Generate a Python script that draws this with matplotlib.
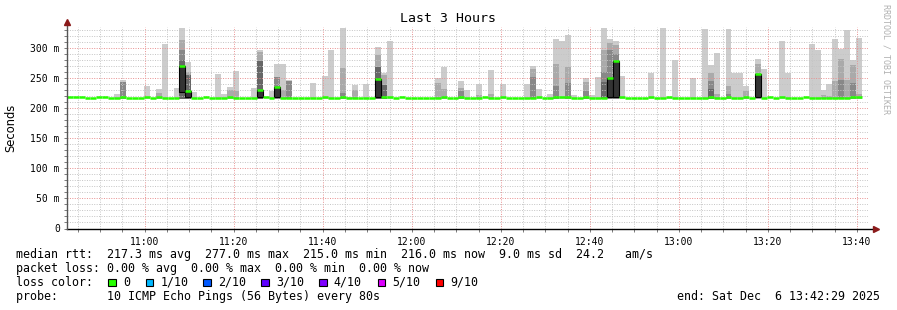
import matplotlib
matplotlib.use('Agg')
import matplotlib.pyplot as plt
from matplotlib.patches import Rectangle
from datetime import datetime, timedelta

# smokeping style: 80 s steps, 10 pings per step
START = datetime(2025, 12, 6, 10, 42, 29)
END = datetime(2025, 12, 6, 13, 42, 29)
STEP_MIN = 80 / 60
N_STEPS = 134

# median rtt (ms) per step: flat base with a few deviations
median_base = 216.5
median_bump_k = [0, 1, 2, 5, 6, 9, 13, 15, 23, 27, 33, 43, 46, 54, 56, 63, 66, 70, 73,
                 79, 82, 83, 84, 87, 93, 98, 101, 108, 111, 114, 118, 120, 124, 132, 133]
median_bump = 218.0
median_hi_k = [19, 20, 32, 35, 52, 53, 91, 92, 116]
median_hi = [270, 228, 231, 235, 249, 219, 251, 278, 257]

# smoke: tops of the sorted-ping bands, outer (light) to inner (dark), 0 = none
spike_k = [8, 9, 13, 15, 16, 18, 19, 20, 21, 25, 26, 27, 28, 31, 32, 34, 35, 36, 37, 41,
           43, 44, 46, 47, 48, 50, 52, 53, 54, 62, 63, 66, 67, 69, 71, 73, 77, 78, 79, 81,
           82, 83, 84, 85, 87, 88, 89, 90, 91, 92, 93, 98, 100, 101, 102, 105, 107, 108,
           109, 111, 112, 113, 114, 116, 117, 120, 121, 125, 126, 127, 128, 129, 130, 131,
           132, 133]
band1 = [224, 247, 237, 232, 307, 234, 333, 276, 227, 257, 224, 235, 262, 234, 297, 229, 273,
         273, 247, 242, 253, 296, 333, 219, 238, 240, 302, 259, 312, 250, 269, 245, 230, 240,
         263, 240, 240, 270, 232, 223, 315, 312, 322, 222, 250, 222, 252, 333, 315, 312, 253,
         259, 333, 219, 280, 250, 332, 272, 292, 332, 259, 259, 237, 282, 265, 312, 258, 307,
         297, 230, 240, 315, 298, 330, 280, 317]
band2 = [0, 0, 0, 225, 0, 0, 313, 260, 0, 0, 0, 230, 228, 0, 293, 0, 0, 230, 0, 0,
         0, 0, 267, 0, 230, 0, 288, 256, 0, 242, 232, 234, 0, 222, 223, 0, 0, 266, 0, 0,
         273, 0, 268, 0, 243, 0, 0, 297, 308, 305, 0, 0, 0, 0, 0, 0, 0, 259, 224, 237, 0,
         0, 229, 273, 0, 0, 0, 0, 0, 222, 220, 245, 282, 247, 272, 223]
band3 = [0, 244, 0, 0, 0, 0, 297, 0, 0, 0, 0, 0, 0, 0, 0, 0, 252, 0, 245, 0,
         0, 0, 225, 0, 0, 0, 0, 0, 0, 0, 0, 228, 0, 0, 0, 0, 0, 252, 0, 0,
         237, 0, 242, 0, 228, 0, 0, 261, 297, 290, 0, 0, 0, 0, 0, 0, 0, 245, 0, 223, 0,
         0, 0, 0, 0, 0, 0, 0, 0, 0, 0, 0, 247, 0, 242, 0]
band4 = [0, 0, 0, 0, 0, 0, 280, 255, 0, 0, 0, 0, 0, 0, 278, 0, 0, 0, 0, 0,
         0, 0, 0, 0, 0, 0, 269, 238, 0, 0, 0, 0, 0, 0, 0, 0, 0, 0, 0, 0,
         0, 0, 0, 0, 0, 0, 0, 244, 0, 0, 0, 0, 0, 0, 0, 0, 0, 232, 0, 0, 0,
         0, 0, 0, 0, 0, 0, 0, 0, 0, 0, 0, 0, 0, 0, 0]
box_k = [19, 20, 32, 35, 52, 91, 92, 116]
box_low = [227, 219, 219, 219, 219, 219, 219, 219]

loss_labels = ['0', '1/10', '2/10', '3/10', '4/10', '5/10', '9/10']
loss_colors = ['#26ff00', '#00b8ff', '#0059ff', '#5e00ff', '#7e00ff', '#dd00ff', '#ff0000']

W, H = 897, 310
fig = plt.figure(figsize=(W / 100, H / 100), dpi=100)
fig.patch.set_facecolor('white')
x0, x1, y0, y1 = 66.7, 868, 27, 228.5
ax = fig.add_axes([x0 / W, 1 - y1 / H, (x1 - x0) / W, (y1 - y0) / H])
ax.set_xlim(0, 180)
ax.set_ylim(0, 335)
for s in ax.spines.values():
    s.set_visible(False)

# smoke
base = 215
band_colors = ['#cccccc', '#aaaaaa', '#888888', '#666666']
for band, col in zip([band1, band2, band3, band4], band_colors):
    xs = [k * STEP_MIN for k, v in zip(spike_k, band) if v > 0]
    hs = [v - base for v in band if v > 0]
    ax.bar(xs, hs, bottom=base, width=STEP_MIN, align='edge', color=col, linewidth=0, zorder=2)

median = {k: median_base for k in range(N_STEPS)}
for k in median_bump_k:
    median[k] = median_bump
for k, v in zip(median_hi_k, median_hi):
    median[k] = v

for k, lo in zip(box_k, box_low):
    ax.add_patch(Rectangle((k * STEP_MIN, lo), STEP_MIN, median[k] - lo,
                           facecolor='#333333', edgecolor='black', linewidth=0.8, zorder=3))

# grid
first_major = (datetime(2025, 12, 6, 11, 0) - START).total_seconds() / 60
t = first_major - 15
while t < 180:
    is_major = abs(((t - first_major) / 20) - round((t - first_major) / 20)) < 1e-6
    ax.axvline(t, color='#e89090' if is_major else '#c4c4c4', lw=0.7,
               linestyle=(0, (1, 1.5)), zorder=2.5)
    t += 5
for v in range(10, 335, 10):
    ax.axhline(v, color='#e89090' if v % 50 == 0 else '#c4c4c4', lw=0.7,
               linestyle=(0, (1, 1.5)), zorder=2.5)

# median line, one segment per step
for k in range(N_STEPS):
    ax.plot([k * STEP_MIN, (k + 1) * STEP_MIN], [median[k], median[k]], color='#26ff00',
            lw=1.8, solid_capstyle='butt', zorder=5)

# axes with arrows
ax.plot([0, 181.5], [0, 0], color='black', lw=1, clip_on=False, zorder=6)
ax.plot([0, 0], [0, 342], color='#555555', lw=1, clip_on=False, zorder=6)
ax.plot([181.8], [0], marker='>', color='#8b1a1a', markersize=4, clip_on=False, zorder=7)
ax.plot([0], [343], marker='^', color='#8b1a1a', markersize=4, clip_on=False, zorder=7)

major_t = [first_major + 20 * i for i in range(9)]
ax.set_xticks(major_t)
ax.set_xticklabels([(datetime(2025, 12, 6, 11, 0) + timedelta(minutes=20 * i)).strftime('%H:%M')
                    for i in range(9)], family='DejaVu Sans Mono', fontsize=7)
ax.set_xticks([first_major - 15 + 5 * i for i in range(36)], minor=True)
ax.set_yticks(range(0, 301, 50))
ax.set_yticklabels(['0'] + ['%d m' % v for v in range(50, 301, 50)],
                   family='DejaVu Sans Mono', fontsize=7)
ax.set_yticks(range(10, 335, 10), minor=True)
ax.tick_params(axis='both', which='both', length=2, width=0.6, color='#666666', pad=3)
ax.tick_params(axis='x', pad=4)

fig.text(448 / W, 1 - 19 / H, 'Last 3 Hours', ha='center', va='center',
         family='DejaVu Sans Mono', fontsize=9.5)
fig.text(11 / W, 1 - 128 / H, 'Seconds', rotation=90, ha='center', va='center',
         family='DejaVu Sans', fontsize=8.3)
fig.text(886 / W, 1 - 4 / H, 'RRDTOOL / TOBI OETIKER', rotation=-90, ha='center', va='top',
         family='DejaVu Sans Mono', fontsize=6, color='#b0b0b0')

mono = dict(family='DejaVu Sans Mono', fontsize=8.4, va='center', ha='left')
fig.text(16 / W, 1 - 254.3 / H,
         'median rtt:  217.3 ms avg  277.0 ms max  215.0 ms min  216.0 ms now  9.0 ms sd  24.2   am/s',
         **mono)
fig.text(16 / W, 1 - 268.3 / H, 'packet loss: 0.00 % avg  0.00 % max  0.00 % min  0.00 % now', **mono)
fig.text(16 / W, 1 - 282.3 / H, 'loss color:', **mono)
fig.text(16 / W, 1 - 296.7 / H, 'probe:       10 ICMP Echo Pings (56 Bytes) every 80s', **mono)
fig.text(880 / W, 1 - 296.7 / H, 'end: Sat Dec  6 13:42:29 2025',
         family='DejaVu Sans Mono', fontsize=8.4, va='center', ha='right')

box_x = [108.3, 145.7, 203.3, 261.3, 319.3, 377.7, 435.7]
for bx, lab, col in zip(box_x, loss_labels, loss_colors):
    fig.patches.append(Rectangle((bx / W, 1 - 285.8 / H), 7.3 / W, 7.3 / H, facecolor=col,
                                 edgecolor='black', linewidth=0.8, transform=fig.transFigure))
    fig.text((bx + 14.5) / W, 1 - 282.3 / H, lab, **mono)

fig.savefig('out.png', dpi=100, facecolor='white')
